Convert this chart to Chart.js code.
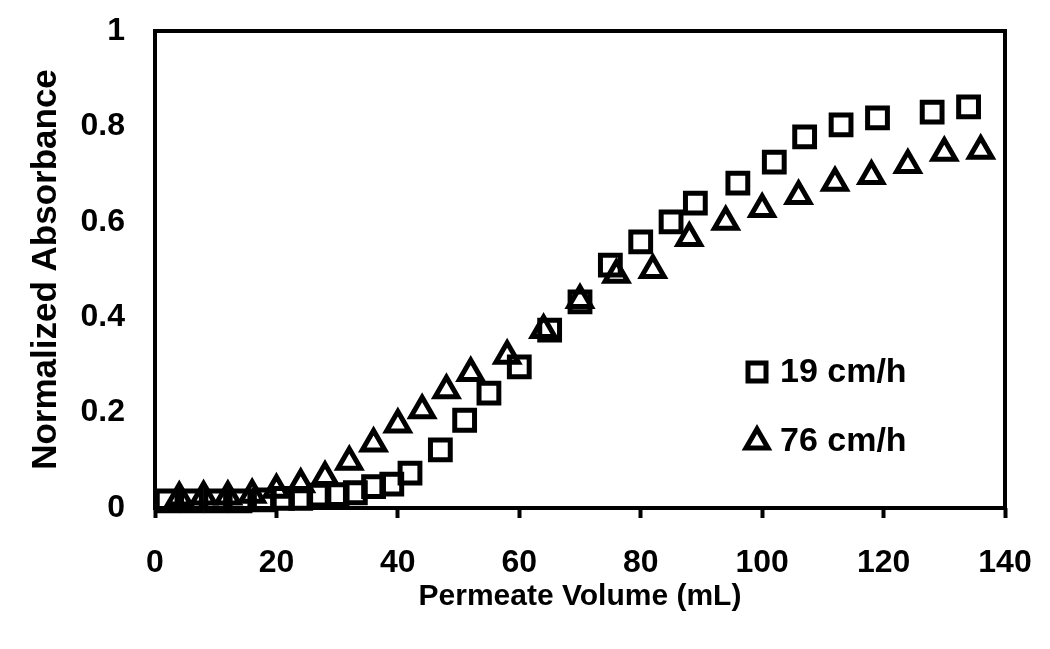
<!DOCTYPE html>
<html>
<head>
<meta charset="utf-8">
<script src="https://cdn.jsdelivr.net/npm/chart.js@4/dist/chart.umd.min.js"></script>
<style>
  body { margin: 0; background: #fff; }
  #wrap { width: 1050px; height: 649px; }
</style>
</head>
<body>
<div id="wrap"><canvas id="absChart" width="1050" height="649"></canvas></div>
<script>
// 19 cm/h (squares)
const slowX = [2, 6, 10, 14, 18, 21, 24, 27, 30, 33, 36, 39, 42, 47, 51, 55, 60, 65, 70, 75, 80, 85, 89, 96, 102, 107, 113, 119, 128, 134];
const slowY = [0.015, 0.015, 0.015, 0.015, 0.017, 0.02, 0.02, 0.027, 0.028, 0.032, 0.045, 0.05, 0.073, 0.122, 0.184, 0.241, 0.296, 0.373, 0.432, 0.509, 0.558, 0.6, 0.639, 0.681, 0.725, 0.778, 0.803, 0.818, 0.83, 0.841];

// 76 cm/h (triangles)
const fastX = [4, 8, 12, 16, 20, 24, 28, 32, 36, 40, 44, 48, 52, 58, 64, 70, 76, 82, 88, 94, 100, 106, 112, 118, 124, 130, 136];
const fastY = [0.022, 0.024, 0.024, 0.028, 0.038, 0.05, 0.065, 0.097, 0.135, 0.175, 0.205, 0.247, 0.283, 0.319, 0.373, 0.436, 0.489, 0.499, 0.566, 0.6, 0.627, 0.654, 0.682, 0.696, 0.719, 0.745, 0.749];

const seriesNames = ['19 cm/h', '76 cm/h'];
const xTicks = [0, 20, 40, 60, 80, 100, 120, 140];
const yTicks = [0, 0.2, 0.4, 0.6, 0.8, 1];

const toPoints = (xs, ys) => xs.map((x, i) => ({ x: x, y: ys[i] }));
const FONT = '"Liberation Sans", Arial, sans-serif';

// box round the plot area
const framePlugin = {
  id: 'frame',
  afterDraw(chart) {
    const { ctx, chartArea: a } = chart;
    ctx.save();
    ctx.strokeStyle = '#000';
    ctx.lineWidth = 4;
    ctx.strokeRect(a.left, a.top, a.right - a.left, a.bottom - a.top);
    ctx.restore();
  }
};

// legend sitting inside the plot, lower right
const legendPlugin = {
  id: 'innerLegend',
  afterDraw(chart) {
    const { ctx } = chart;
    const rows = [
      { label: seriesNames[0], style: 'rect', y: 372 },
      { label: seriesNames[1], style: 'triangle', y: 441 }
    ];
    ctx.save();
    ctx.strokeStyle = '#000';
    ctx.fillStyle = '#000';
    ctx.lineWidth = 5;
    rows.forEach(r => {
      const cx = 757;
      ctx.beginPath();
      if (r.style === 'rect') {
        ctx.rect(cx - 9, r.y - 9, 18, 18);
      } else {
        ctx.moveTo(cx, r.y - 12);
        ctx.lineTo(cx + 11, r.y + 7);
        ctx.lineTo(cx - 11, r.y + 7);
        ctx.closePath();
      }
      ctx.stroke();
      ctx.font = 'bold 34px ' + FONT;
      ctx.textBaseline = 'middle';
      ctx.textAlign = 'left';
      ctx.fillText(r.label, 780, r.y + 1);
    });
    ctx.restore();
  }
};

const ctx = document.getElementById('absChart').getContext('2d');
const absChart = new Chart(ctx, {
  type: 'scatter',
  data: {
    datasets: [
      {
        label: seriesNames[0],
        data: toPoints(slowX, slowY),
        pointStyle: 'rect',
        pointRadius: 14,
        pointBorderWidth: 5,
        pointBorderColor: '#000',
        pointBackgroundColor: 'rgba(0,0,0,0)',
        clip: false
      },
      {
        label: seriesNames[1],
        data: toPoints(fastX, fastY),
        pointStyle: 'triangle',
        pointRadius: 13,
        pointBorderWidth: 5,
        pointBorderColor: '#000',
        pointBackgroundColor: 'rgba(0,0,0,0)',
        clip: false
      }
    ]
  },
  options: {
    responsive: false,
    animation: false,
    layout: { padding: { top: 31, right: 45, left: 0, bottom: 0 } },
    plugins: {
      legend: { display: false },
      tooltip: { enabled: false }
    },
    scales: {
      x: {
        type: 'linear',
        min: xTicks[0],
        max: xTicks[xTicks.length - 1],
        afterBuildTicks: s => { s.ticks = xTicks.map(v => ({ value: v })); },
        afterFit: s => { s.height = 141; s.paddingLeft = 0; s.paddingRight = 0; },
        border: { display: false },
        grid: {
          drawOnChartArea: false,
          drawTicks: true,
          tickLength: 10,
          tickWidth: 4,
          tickColor: '#000'
        },
        ticks: {
          padding: 26,
          color: '#000',
          font: { family: FONT, size: 32, weight: 'bold' }
        },
        title: {
          display: true,
          text: 'Permeate Volume (mL)',
          color: '#000',
          padding: { top: 0, bottom: 34 },
          font: { family: FONT, size: 30, weight: 'bold' }
        }
      },
      y: {
        type: 'linear',
        min: yTicks[0],
        max: yTicks[yTicks.length - 1],
        afterBuildTicks: s => { s.ticks = yTicks.map(v => ({ value: v })); },
        afterFit: s => { s.width = 155; s.paddingTop = 0; s.paddingBottom = 0; },
        border: { display: false },
        grid: { display: false, drawTicks: false },
        ticks: {
          padding: 30,
          color: '#000',
          callback: v => String(Math.round(v * 10) / 10),
          font: { family: FONT, size: 32, weight: 'bold' }
        },
        title: {
          display: true,
          text: 'Normalized Absorbance',
          color: '#000',
          padding: { top: 25, bottom: 0 },
          font: { family: FONT, size: 35, weight: 'bold' }
        }
      }
    }
  },
  plugins: [framePlugin, legendPlugin]
});
</script>
</body>
</html>
